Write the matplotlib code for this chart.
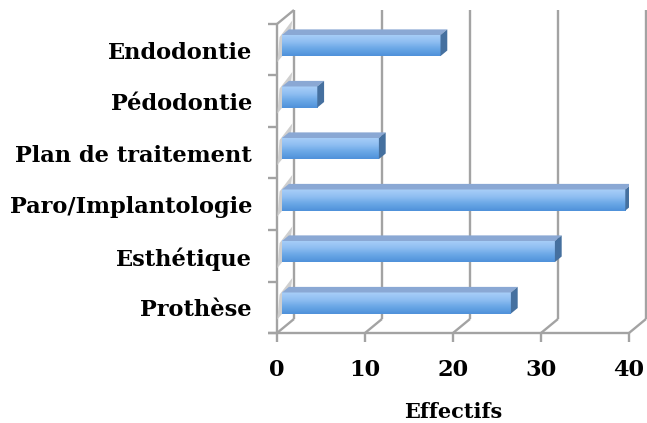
import numpy as np
import matplotlib
matplotlib.use("Agg")
import matplotlib.pyplot as plt
from matplotlib.patches import Polygon
from matplotlib.colors import LinearSegmentedColormap

# donnees
categories = ["Prothèse", "Esthétique", "Paro/Implantologie",
              "Plan de traitement", "Pédodontie", "Endodontie"]
effectifs = [26, 31, 39, 11, 4, 18]
graduations = [0, 10, 20, 30, 40]
titre_x = "Effectifs"

GRIS = "#a3a3a3"
FACE_HAUT = "#8aa8d4"
FACE_COTE = "#45709f"
degrade = LinearSegmentedColormap.from_list(
    "barre", ["#a9cff8", "#90bff2", "#6aa7e6", "#4f91da"])

# decalage de profondeur (perspective oblique), en unites de donnees
DX, DY = 1.93, 0.272
Z0, Z1 = 0.3, 0.7       # profondeur des barres
H = 0.41                # epaisseur des barres
POLICE = dict(family="DejaVu Serif", fontweight="bold", color="#000000")


def proj(v, c, z):
    return (v + DX * z, c + DY * z)


fig = plt.figure(figsize=(6.47, 4.23), dpi=100)
ax = fig.add_axes([277 / 647, 90 / 423, 352 / 647, 309 / 423])
ax.set_xlim(0, 40)
ax.set_ylim(-0.5, 5.5)
ax.axis("off")

n = len(categories)
bas, haut = -0.5, n - 0.5

def ligne(p, q, **kw):
    ax.plot([p[0], q[0]], [p[1], q[1]], color=GRIS, lw=1.7,
            solid_capstyle="butt", clip_on=False, **kw)

# mur du fond + sol
for v in graduations:
    ligne(proj(v, bas, 1), proj(v, haut, 1), zorder=1)
    ligne(proj(v, bas, 0), proj(v, bas, 1), zorder=1)
    ligne(proj(v, bas, 0), (v, bas - 0.17), zorder=1)
ligne(proj(graduations[0], bas, 0), proj(graduations[-1], bas, 0), zorder=1)
ligne((-1.0, bas), proj(0, bas, 0), zorder=1)

# mur de gauche
ligne(proj(0, bas, 0), proj(0, haut, 0), zorder=1)
ligne(proj(0, haut, 0), proj(0, haut, 1), zorder=1)
for k in range(n + 1):
    ligne((-1.0, bas + k), (0, bas + k), zorder=1)

# barres
grad = np.linspace(0, 1, 64).reshape(-1, 1)
for i, w in enumerate(effectifs):
    b, t = i - H / 2, i + H / 2
    # ombre sur le mur
    ombre = Polygon([proj(0, b - 0.04, 0.02), proj(0, t, Z0 - 0.15),
                     proj(0, t + 0.12, Z1 + 0.2), proj(0, b + 0.05, Z1)],
                    closed=True, facecolor="#cfcfcf", edgecolor="none",
                    zorder=2, clip_on=False)
    ax.add_patch(ombre)
    x0, y0 = proj(0, b, Z0)
    x1, y1 = proj(w, t, Z0)
    ax.imshow(grad, cmap=degrade, aspect="auto", extent=(x0, x1, y0, y1),
              origin="upper", zorder=3, interpolation="bicubic")
    ax.add_patch(Polygon([proj(0, t, Z0), proj(w, t, Z0), proj(w, t, Z1),
                          proj(0, t, Z1)], closed=True, facecolor=FACE_HAUT,
                         edgecolor="none", zorder=3))
    ax.add_patch(Polygon([proj(w, b, Z0), proj(w, t, Z0), proj(w, t, Z1),
                          proj(w, b, Z1)], closed=True, facecolor=FACE_COTE,
                         edgecolor="none", zorder=3))
ax.set_xlim(0, 40)
ax.set_ylim(-0.5, 5.5)

# textes
for i, nom in enumerate(categories):
    ax.text(-2.84, i - 0.06, nom, ha="right", va="center", fontsize=16.2,
            **POLICE)
for v in graduations:
    ax.text(v, -1.22, str(v), ha="center", va="center", fontsize=16.2,
            **POLICE)
ax.text(20, -2.03, titre_x, ha="center", va="center", fontsize=15, **POLICE)

fig.savefig("out.png", dpi=100, facecolor="white")
